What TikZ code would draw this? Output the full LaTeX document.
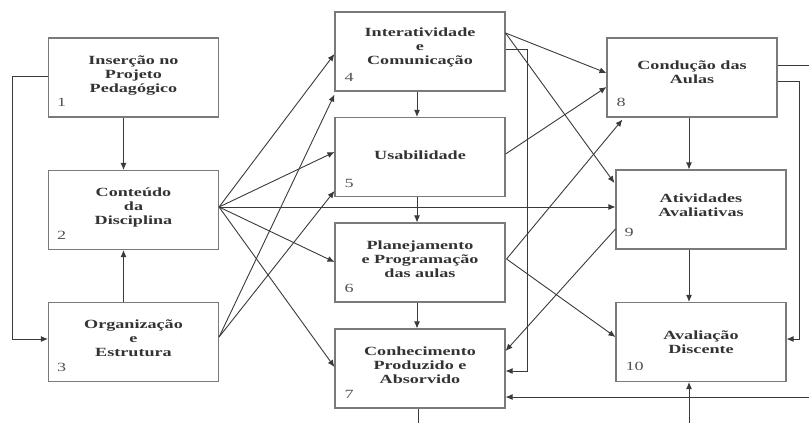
\documentclass[tikz,border=0pt]{standalone}
\usepackage{fontspec}
\setmainfont[FakeStretch=1.45]{Liberation Serif}
\usetikzlibrary{arrows.meta,calc}
\definecolor{boxc}{HTML}{7A7A7A}
\definecolor{linec}{HTML}{3A3A3A}
\definecolor{txtc}{HTML}{333333}
\tikzset{
  x=1pt,y=-1pt,
  box/.style={draw=boxc,line width=1.1pt,minimum width=170pt,minimum height=79pt,inner sep=0pt},
  title/.style={font=\bfseries\fontsize{12.5}{14}\selectfont,text=txtc,align=center,inner sep=0pt},
  num/.style={font=\fontsize{12.5}{14}\selectfont,text=txtc!85,inner sep=0pt,anchor=base west},
  conn/.style={draw=linec,line width=0.9pt,-{Latex[length=7pt,width=6pt]}},
  plain/.style={draw=linec,line width=0.9pt},
}
\begin{document}
\begin{tikzpicture}
\useasboundingbox (0,0) rectangle (809,423);
% boxes
\node[box] (b1) at (133.5,77.5) {};
\node[box] (b2) at (133.5,210) {};
\node[box] (b3) at (133.5,342) {};
\node[box] (b4) at (420,51.5) {};
\node[box] (b5) at (420,157) {};
\node[box] (b6) at (420,262.5) {};
\node[box] (b7) at (420,368.5) {};
\node[box] (b8) at (692,77.5) {};
\node[box] (b9) at (701,209.5) {};
\node[box] (b10) at (701,342) {};
% titles
\node[title] (t1) at (133.5,76) {Inserção no\\Projeto\\Pedagógico};
\node[title] (t2) at (133.5,207) {Conteúdo\\da\\Disciplina};
\node[title] (t3) at (133.5,338) {Organização\\e\\Estrutura};
\node[title] (t4) at (420,47) {Interatividade\\e\\Comunicação};
\node[title] (t5) at (420,155) {Usabilidade};
\node[title] (t6) at (420,259) {Planejamento\\e Programação\\das aulas};
\node[title] (t7) at (420,365) {Conhecimento\\Produzido e\\Absorvido};
\node[title] (t8) at (692,72) {Condução das\\Aulas};
\node[title] (t9) at (701,205) {Atividades\\Avaliativas};
\node[title] (t10) at (701,342) {Avaliação\\Discente};
% numbers
\node[num] (n1) at ($(b1.south west)+(9,-11)$) {1};
\node[num] (n2) at ($(b2.south west)+(9,-11)$) {2};
\node[num] (n3) at ($(b3.south west)+(9,-11)$) {3};
\node[num] (n4) at ($(b4.south west)+(10,-10)$) {4};
\node[num] (n5) at ($(b5.south west)+(10,-10)$) {5};
\node[num] (n6) at ($(b6.south west)+(10,-10)$) {6};
\node[num] (n7) at ($(b7.south west)+(10,-10)$) {7};
\node[num] (n8) at ($(b8.south west)+(10,-11)$) {8};
\node[num] (n9) at ($(b9.south west)+(9,-13)$) {9};
\node[num] (n10) at ($(b10.south west)+(10,-12)$) {10};
% free ends
\coordinate (e8) at (809,65);
\coordinate (e7) at (418,423);
\coordinate (eB) at (809,397);
\coordinate (e10) at (689,423);
% left column
\draw[conn] ($(b1.south)+(-10,0)$) -- ($(b2.north)+(-10,0)$);
\draw[conn] ($(b3.north)+(-10,0)$) -- ($(b2.south)+(-10,0)$);
\draw[conn] ($(b1.west)+(0,-1.5)$) -- (12,76) -- (12,339) -- ($(b3.west)+(0,-3)$);
% from 2
\draw[conn] ($(b2.east)+(0,-3)$) -- ($(b4.west)+(0,2.5)$);
\draw[conn] ($(b2.east)+(0,-3)$) -- ($(b5.west)+(0,-5)$);
\draw[conn] ($(b2.east)+(0,-3)$) -- ($(b6.west)+(0,-0.5)$);
\draw[conn] ($(b2.east)+(0,-3)$) -- ($(b7.west)+(0,-1.5)$);
\draw[conn] ($(b2.east)+(0,-3)$) -- ($(b9.west)+(0,-2.5)$);
% from 3
\draw[conn] ($(b3.east)+(0,-5)$) -- ($(b4.south west)+(0,3)$);
\draw[conn] ($(b3.east)+(0,-5)$) -- ($(b5.west)+(0,34)$);
% middle column
\draw[conn] ($(b4.south)+(-3,0)$) -- ($(b5.north)+(-3,0)$);
\draw[conn] ($(b5.south)+(-3,0)$) -- ($(b6.north)+(-3,0)$);
\draw[conn] ($(b6.south)+(-3,0)$) -- ($(b7.north)+(-3,0)$);
\draw[plain] ($(b7.south)+(-2,0)$) -- (e7);
% from 4
\draw[conn] ($(b4.east)+(0,-18.5)$) -- ($(b8.west)+(0,-4.5)$);
\draw[conn] ($(b4.east)+(0,-18.5)$) -- ($(b9.west)+(-1,-26.5)$);
\draw[conn] ($(b4.east)+(0,-2.5)$) -- (527,49) -- (527,371) -- ($(b7.east)+(0,2.5)$);
% from 5
\draw[conn] ($(b5.east)+(0,-3)$) -- ($(b8.west)+(0,9.5)$);
% from 6
\draw[conn] ($(b6.east)+(1,-3.5)$) -- ($(b8.south west)+(16,2)$);
\draw[conn] ($(b6.east)+(1,-3.5)$) -- ($(b10.west)+(0,-5)$);
% from 9
\draw[conn] ($(b9.west)+(0,19.5)$) -- ($(b7.east)+(0,-17.5)$);
% right column
\draw[conn] ($(b8.south)+(-3,0)$) -- ($(b9.north)+(-12,0)$);
\draw[conn] ($(b9.south)+(-12,0)$) -- ($(b10.north)+(-12,0)$);
\draw[plain] ($(b8.east)+(0,-12.5)$) -- (e8);
\draw[conn] ($(b8.east)+(0,3.5)$) -- (799,81) -- (799,339) -- ($(b10.east)+(0,-3)$);
\draw[conn] (eB) -- (b7.east |- eB);
\draw[conn] (e10) -- ($(b10.south)+(-12,0)$);
\end{tikzpicture}
\end{document}
